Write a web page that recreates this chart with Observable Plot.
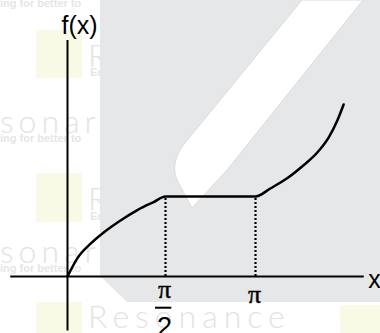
<!DOCTYPE html>
<html>
<head>
<meta charset="utf-8">
<script src="https://cdn.jsdelivr.net/npm/d3@7"></script>
<script src="https://cdn.jsdelivr.net/npm/@observablehq/plot@0.6"></script>
<style>
  html, body { margin: 0; padding: 0; background: #fff; }
  #wrap { position: relative; width: 380px; height: 333px; overflow: hidden; background: #fff; }
  #bg { position: absolute; left: 0; top: 0; }
  #chart { position: absolute; left: 0; top: 0; }
</style>
</head>
<body>
<div id="wrap">
  <svg id="bg" width="380" height="333" viewBox="0 0 380 333">
    <!-- faint watermark decoration -->
    <g fill="#f8fae6">
      <rect x="36" y="30" width="46" height="48"></rect>
      <rect x="36" y="173" width="46" height="49"></rect>
      <rect x="36" y="302" width="46" height="31"></rect>
      <rect x="340" y="305" width="40" height="28"></rect>
    </g>
    <g fill="#e3e3e3" font-family="Lato, 'Open Sans', sans-serif" font-weight="300" font-size="32" letter-spacing="5">
      <text x="0" y="133">sonar</text>
      <text x="0" y="263">sonar</text>
      <text x="88" y="67">R</text>
      <text x="88" y="210">R</text>
      <text x="88" y="328" letter-spacing="6">Resonance</text>
    </g>
    <g fill="#e6e6e6" font-family="'Liberation Sans', Arial, sans-serif" font-weight="bold" font-size="11">
      <text x="0" y="7">ing for better to</text>
      <text x="0" y="142">ing for better to</text>
      <text x="0" y="272">ing for better to</text>
      <text x="90" y="76">Ed</text>
      <text x="90" y="220">Ed</text>
    </g>
    <polygon points="100,0 380,0 380,302 127,302 100,276" fill="#e6e7e8"></polygon>
    <path d="M302,0 L363,0 L227,170 L192,208 L177,180 C172,168 175,156 185,143 Z" fill="#ffffff" stroke="#dcdcdc" stroke-width="1"></path>
  </svg>
  <div id="chart"></div>
</div>
<script>
// Curve: x in radians, f(x) in units of the plateau height
const curveX = [0, 0.16, 0.37, 0.58, 0.85, 1.12, 1.38, Math.PI / 2, Math.PI, 3.40, 3.70, 3.98, 4.22, 4.42, 4.57, 4.68];
const curveY = [0, 0.23, 0.41, 0.55, 0.70, 0.83, 0.93, 1, 1, 1.10, 1.23, 1.39, 1.55, 1.74, 1.95, 2.15];

// Axis extents
const xAxisExtent = [-0.91, 5.04];
const yAxisExtent = [-0.68, 2.95];

// Dotted guide lines
const guideX = [Math.PI / 2, Math.PI];
const guideY = [1, 1];

// Tick labels
const fracTickX = [Math.PI / 2];
const fracNum = ["π"];
const fracDen = ["2"];
const plainTickX = [Math.PI];
const plainTickLabel = ["π"];

// Axis titles
const yTitle = "f(x)";
const xTitle = "x";

const curve = curveX.map((x, i) => ({x, y: curveY[i]}));
const guides = guideX.map((x, i) => ({x, y: guideY[i]}));
const fracs = fracTickX.map((x, i) => ({x, num: fracNum[i], den: fracDen[i]}));
const plains = plainTickX.map((x, i) => ({x, label: plainTickLabel[i]}));

const sans = "'Liberation Sans', Arial, Helvetica, sans-serif";
const serif = "'Liberation Serif', 'Times New Roman', serif";

const chart = Plot.plot({
  width: 380,
  height: 333,
  margin: 0,
  style: "background: transparent; overflow: visible;",
  x: {type: "linear", domain: [0, Math.PI / 2, Math.PI], range: [67, 165, 255], axis: null},
  y: {type: "linear", domain: [0, 1], range: [276, 196], axis: null},
  marks: [
    Plot.ruleY([0], {x1: xAxisExtent[0], x2: xAxisExtent[1], stroke: "#000", strokeWidth: 2}),
    Plot.ruleX([0], {y1: yAxisExtent[0], y2: yAxisExtent[1], stroke: "#000", strokeWidth: 2}),
    Plot.ruleX(guides, {x: "x", y1: 0, y2: "y", stroke: "#000", strokeWidth: 2.2, strokeDasharray: "2,2"}),
    Plot.line(curve, {x: "x", y: "y", curve: "monotone-x", stroke: "#000", strokeWidth: 2.5}),
    // fraction tick label pi/2
    Plot.text(fracs, {x: "x", y: 0, text: "num", dx: -1, dy: 21, lineAnchor: "bottom", fontSize: 26, fontFamily: serif, fill: "#000", stroke: "#000", strokeWidth: 0.4}),
    Plot.ruleY(fracs, {x1: d => d.x - 0.16, x2: d => d.x + 0.11, y: -0.39, stroke: "#000", strokeWidth: 2}),
    Plot.text(fracs, {x: "x", y: 0, text: "den", dx: -1, dy: 59, lineAnchor: "bottom", fontSize: 27, fontFamily: sans, fill: "#000"}),
    // plain tick label pi
    Plot.text(plains, {x: "x", y: 0, text: "label", dx: -1, dy: 26, lineAnchor: "bottom", fontSize: 26, fontFamily: serif, fill: "#000", stroke: "#000", strokeWidth: 0.4}),
    // axis titles
    Plot.text([yTitle], {x: 0, y: yAxisExtent[1], text: d => d, dx: 12, dy: -7, lineAnchor: "bottom", fontSize: 25, fontFamily: sans, fill: "#000"}),
    Plot.text([xTitle], {x: xAxisExtent[1], y: 0, text: d => d, dx: 4, dy: 11, textAnchor: "start", lineAnchor: "bottom", fontSize: 25, fontFamily: sans, fill: "#000"})
  ]
});
document.getElementById("chart").appendChild(chart);
</script>
</body>
</html>
